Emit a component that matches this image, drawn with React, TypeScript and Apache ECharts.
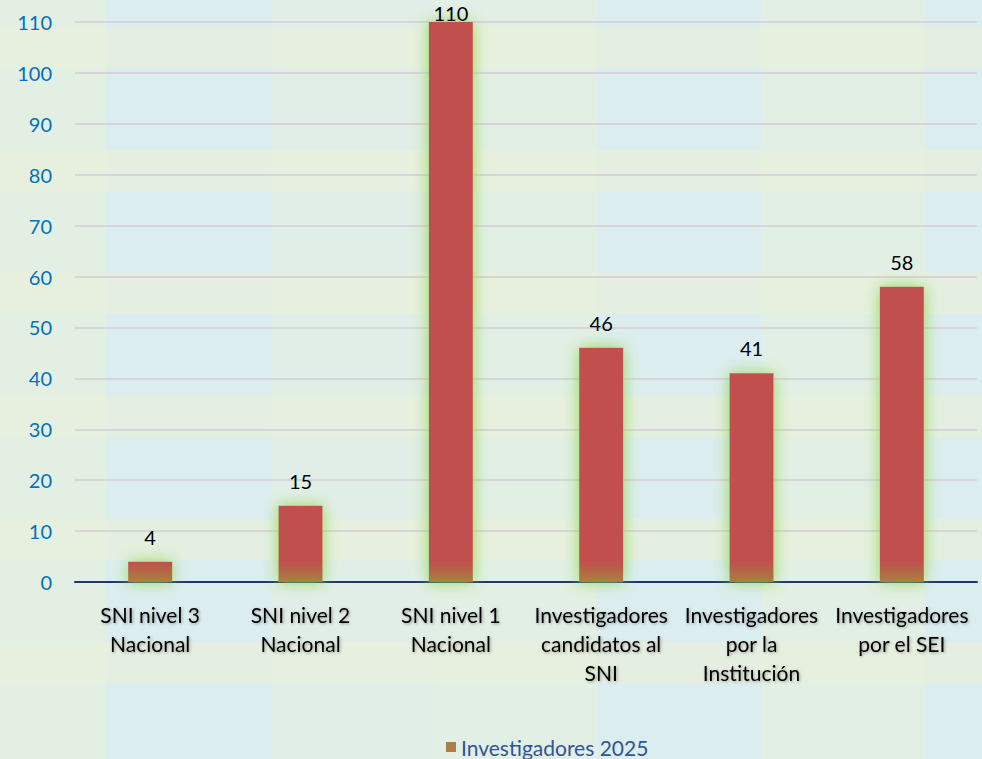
import React, { useEffect, useRef } from "react";
import * as echarts from "echarts";

const categories = [
  "SNI nivel 3\nNacional",
  "SNI nivel 2\nNacional",
  "SNI nivel 1\nNacional",
  "Investigadores\ncandidatos al\nSNI",
  "Investigadores\npor la\nInstitución",
  "Investigadores\npor el SEI",
];
const values = [4, 15, 110, 46, 41, 58];
const seriesName = "Investigadores 2025";
const yMin = 0;
const yMax = 110;
const yInterval = 10;

const FONT = "Lato, 'Open Sans', sans-serif";

function buildBackground(): any[] {
  const els: any[] = [];
  els.push({
    type: "rect",
    shape: { x: 0, y: 0, width: 982, height: 759 },
    style: { fill: "#e9f1dd" },
    z: -100,
    silent: true,
  });
  const colEdges = [0, 106, 271, 433, 597, 761, 925, 982];
  const strength = [0.35, 1, 0.6, 0.45, 1, 0.5, 1];
  for (let k = -1; k < 6; k++) {
    const y0 = 68 + 123 * k;
    for (let c = 0; c < colEdges.length - 1; c++) {
      els.push({
        type: "rect",
        shape: { x: colEdges[c], y: y0, width: colEdges[c + 1] - colEdges[c], height: 82 },
        style: { fill: "#d9ecf2", opacity: 0.85 * strength[c] },
        z: -99,
        silent: true,
      });
      els.push({
        type: "rect",
        shape: { x: colEdges[c], y: y0 + 82, width: colEdges[c + 1] - colEdges[c], height: 41 },
        style: { fill: "#dcedf0", opacity: 0.25 * strength[c] },
        z: -99,
        silent: true,
      });
    }
  }
  return els;
}

export default function App() {
  const ref = useRef<HTMLDivElement>(null);
  useEffect(() => {
    if (!ref.current) return;
    const chart = echarts.init(ref.current, undefined, { renderer: "svg" });
    const barGradient = {
      type: "linear",
      x: 0,
      y: 0,
      x2: 0,
      y2: 582,
      global: true,
      colorStops: [
        { offset: 0, color: "#c0504d" },
        { offset: 0.965, color: "#c0504d" },
        { offset: 1, color: "#a6813f" },
      ],
    };
    const data = values.map((v) => ({
      value: v,
      label: v > yMax - 5 ? { distance: -1 } : undefined,
    }));
    chart.setOption({
      animation: false,
      backgroundColor: "#e9f1dd",
      graphic: { elements: buildBackground() },
      grid: { left: 75, right: 5, top: 22, bottom: 177, containLabel: false },
      legend: {
        data: [{ name: seriesName, itemStyle: { color: "#b07c4a" } }],
        left: 446,
        top: 736,
        padding: 0,
        icon: "rect",
        itemWidth: 10,
        itemHeight: 10,
        itemGap: 8,
        textStyle: { color: "#2f5597", fontSize: 21, fontFamily: FONT, lineHeight: 22 },
      },
      xAxis: {
        type: "category",
        data: categories,
        axisLine: { show: true, lineStyle: { color: "#1f3864", width: 2 } },
        axisTick: { show: false },
        axisLabel: {
          interval: 0,
          color: "#000",
          fontSize: 21,
          fontFamily: FONT,
          lineHeight: 29,
          margin: 18,
          textShadowColor: "rgba(0,0,0,0.35)",
          textShadowBlur: 3,
          textShadowOffsetX: 1,
          textShadowOffsetY: 1,
        },
      },
      yAxis: {
        type: "value",
        min: yMin,
        max: yMax,
        interval: yInterval,
        axisLine: { show: false },
        axisTick: { show: false },
        axisLabel: { color: "#0070c0", fontSize: 20, fontFamily: FONT, margin: 23 },
        splitLine: { lineStyle: { color: "#d9d3da", width: 2 } },
      },
      series: [
        {
          name: seriesName,
          type: "bar",
          data,
          barWidth: 44,
          itemStyle: {
            color: barGradient,
            shadowColor: "rgba(140,215,80,0.95)",
            shadowBlur: 16,
          },
          label: {
            show: true,
            position: "top",
            distance: 15,
            color: "#000",
            fontSize: 20,
            fontFamily: FONT,
          },
        },
      ],
    } as any);
    return () => chart.dispose();
  }, []);
  return <div ref={ref} style={{ width: 982, height: 759, position: "absolute", left: 0, top: 0 }} />;
}
